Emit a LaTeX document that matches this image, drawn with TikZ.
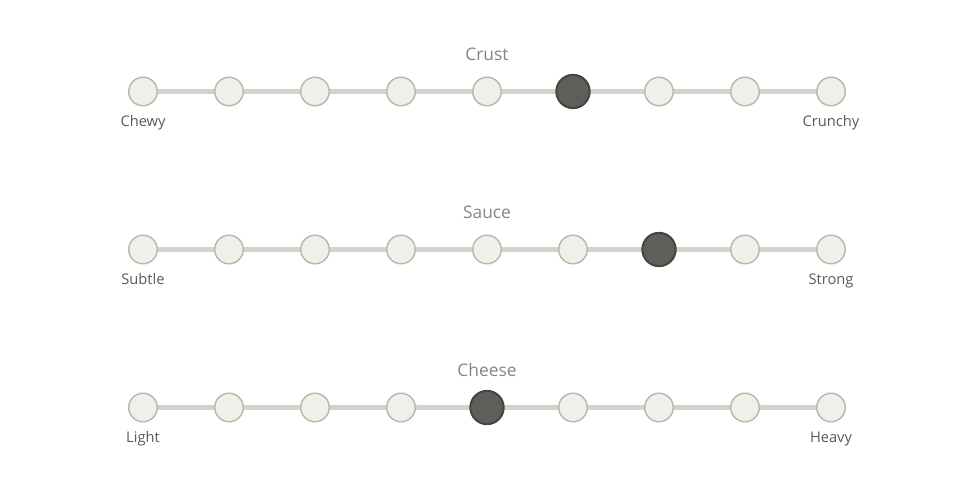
\documentclass[tikz,border=0pt]{standalone}
\usepackage{fontspec}
\setmainfont{Open Sans}
\usetikzlibrary{backgrounds}
\definecolor{dotfill}{HTML}{F1EFE9}
\definecolor{dotline}{HTML}{BAB7AD}
\definecolor{trackc}{HTML}{D5D2C9}
\definecolor{selfill}{HTML}{5F5E5A}
\definecolor{selline}{HTML}{444441}
\definecolor{titlec}{HTML}{858480}
\definecolor{labelc}{HTML}{5A5955}
\begin{document}
\begin{tikzpicture}[x=0.75pt,y=-0.75pt,
  dot/.style={circle,draw=dotline,fill=dotfill,line width=1.1pt,minimum size=21.4pt,inner sep=0pt},
  seldot/.style={circle,draw=selline,fill=selfill,line width=1.5pt,minimum size=25pt,inner sep=0pt},
  track/.style={draw=trackc,line width=3.8pt},
  ttl/.style={anchor=base,text=titlec,font=\fontsize{13}{15}\selectfont,inner sep=0pt},
  lbl/.style={anchor=base,text=labelc,font=\fontsize{11}{13}\selectfont,inner sep=0pt}]
\useasboundingbox (0,0) rectangle (975,488);
\foreach \r/\y/\t/\a/\b/\s in {1/91.5/Crust/Chewy/Crunchy/6,2/249.5/Sauce/Subtle/Strong/7,3/407.5/Cheese/Light/Heavy/5}{
  \foreach \i in {1,...,9}{
    \ifnum\i=\s
      \node[seldot] (r\r-\i) at ({143+86*(\i-1)},\y) {};
    \else
      \node[dot] (r\r-\i) at ({143+86*(\i-1)},\y) {};
    \fi
  }
  \begin{pgfonlayer}{background}
    \draw[track] (r\r-1.center) -- (r\r-9.center);
  \end{pgfonlayer}
  \node[ttl] (t\r) at (487,\y-31) {\t};
  \node[lbl] (a\r) at (143,\y+35) {\a};
  \node[lbl] (b\r) at (831,\y+35) {\b};
}
\end{tikzpicture}
\end{document}
